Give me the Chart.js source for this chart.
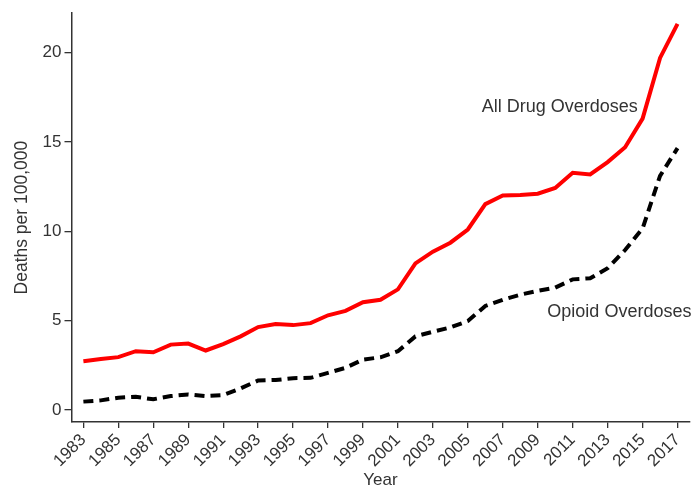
<!DOCTYPE html>
<html>
<head>
<meta charset="utf-8">
<script src="https://cdn.jsdelivr.net/npm/chart.js@4/dist/chart.umd.min.js"></script>
<style>
  html, body { margin: 0; padding: 0; background: #fff; }
  #wrap { width: 694px; height: 489px; position: relative; }
</style>
</head>
<body>
<div id="wrap"><canvas id="c" width="694" height="489"></canvas></div>
<script>
const years = [1983,1984,1985,1986,1987,1988,1989,1990,1991,1992,1993,1994,1995,1996,1997,1998,1999,2000,
  2001,2002,2003,2004,2005,2006,2007,2008,2009,2010,2011,2012,2013,2014,2015,2016,2017];
const allDrug = [2.73,2.85,2.96,3.29,3.23,3.66,3.72,3.33,3.69,4.12,4.64,4.81,4.75,4.86,5.3,5.55,6.03,6.17,
  6.75,8.2,8.86,9.36,10.1,11.52,12.0,12.03,12.1,12.42,13.27,13.18,13.87,14.7,16.3,19.7,21.6];
const opioid = [0.47,0.54,0.69,0.74,0.6,0.78,0.87,0.78,0.84,1.21,1.65,1.68,1.78,1.8,2.08,2.36,2.82,2.95,
  3.29,4.12,4.38,4.62,4.98,5.82,6.17,6.45,6.67,6.85,7.31,7.37,7.93,8.95,10.16,13.1,14.65];
const xTickYears = [1983,1985,1987,1989,1991,1993,1995,1997,1999,2001,2003,2005,2007,2009,2011,2013,2015,2017];
const yTickValues = [0,5,10,15,20];
const seriesLabels = ['All Drug Overdoses', 'Opioid Overdoses'];

const FONT = "'Liberation Sans', Arial, Helvetica, sans-serif";
const TXT = '#333333';

const labelPlugin = {
  id: 'seriesLabels',
  afterDatasetsDraw(chart, args, opts) {
    const ctx = chart.ctx;
    const xs = chart.scales.x, ys = chart.scales.y;
    ctx.save();
    ctx.font = '18px ' + FONT;
    ctx.fillStyle = TXT;
    ctx.textBaseline = 'middle';
    ctx.textAlign = 'left';
    opts.items.forEach(it => {
      ctx.fillText(it.text, xs.getPixelForValue(it.x), ys.getPixelForValue(it.y));
    });
    ctx.restore();
  }
};

new Chart(document.getElementById('c'), {
  type: 'line',
  data: {
    datasets: [
      {
        label: seriesLabels[0],
        data: years.map((y, i) => ({ x: y, y: allDrug[i] })),
        borderColor: '#ff0000',
        borderWidth: 4,
        pointRadius: 0,
        tension: 0,
        fill: false
      },
      {
        label: seriesLabels[1],
        data: years.map((y, i) => ({ x: y, y: opioid[i] })),
        borderColor: '#000000',
        borderWidth: 4,
        borderDash: [10, 6],
        borderCapStyle: 'butt',
        pointRadius: 0,
        tension: 0,
        fill: false
      }
    ]
  },
  options: {
    responsive: false,
    animation: false,
    layout: { padding: { top: 10, right: 2, left: 0, bottom: 0 } },
    plugins: {
      legend: { display: false },
      tooltip: { enabled: false },
      seriesLabels: {
        items: [
          { text: seriesLabels[0], x: 2005.8, y: 16.95 },
          { text: seriesLabels[1], x: 2009.55, y: 5.5 }
        ]
      }
    },
    scales: {
      x: {
        type: 'linear',
        min: 1982.32,
        max: 2017.68,
        afterBuildTicks(scale) { scale.ticks = xTickYears.map(v => ({ value: v })); },
        afterFit(scale) { scale.height = 67; },
        ticks: {
          autoSkip: false,
          minRotation: 45,
          maxRotation: 45,
          padding: 2,
          color: TXT,
          font: { family: FONT, size: 17 },
          callback: v => String(v)
        },
        grid: { drawOnChartArea: false, drawTicks: true, tickLength: 6, color: '#333333', lineWidth: 1.3 },
        border: { display: true, color: '#333333', width: 1.5 },
        title: {
          display: true,
          text: 'Year',
          color: TXT,
          font: { family: FONT, size: 17, lineHeight: 1.0 },
          padding: { top: 0, bottom: 0 }
        }
      },
      y: {
        type: 'linear',
        min: -0.67,
        max: 22.2,
        afterBuildTicks(scale) { scale.ticks = yTickValues.map(v => ({ value: v })); },
        afterFit(scale) { scale.width = 71.5; },
        ticks: {
          padding: 3,
          color: TXT,
          font: { family: FONT, size: 17 },
          callback: v => String(v)
        },
        grid: { drawOnChartArea: false, drawTicks: true, tickLength: 7, color: '#333333', lineWidth: 1.3 },
        border: { display: true, color: '#333333', width: 1.5 },
        title: {
          display: true,
          text: 'Deaths per 100,000',
          color: TXT,
          font: { family: FONT, size: 17.5 },
          padding: { top: 12, bottom: 0 }
        }
      }
    }
  },
  plugins: [labelPlugin]
});
</script>
</body>
</html>
